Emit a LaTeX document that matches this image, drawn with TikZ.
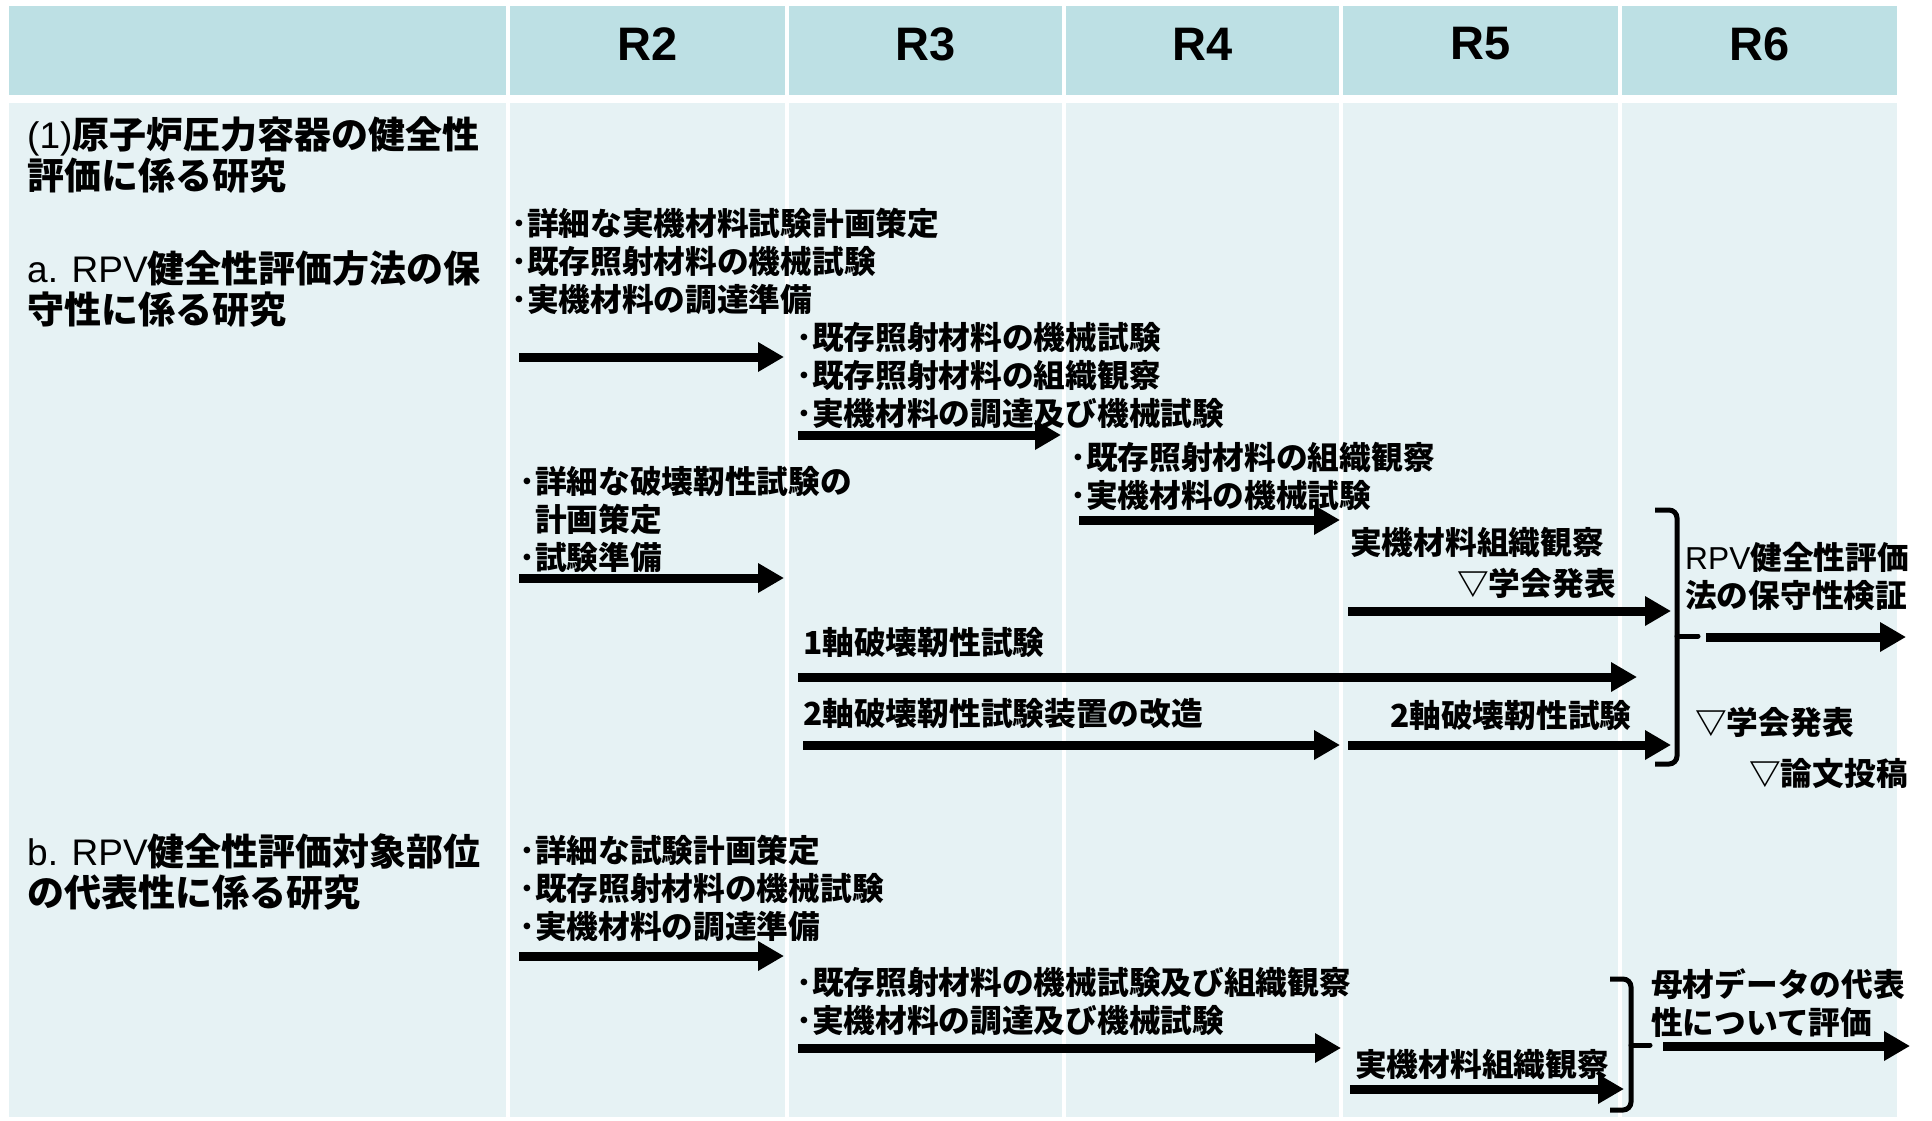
\documentclass[tikz,border=0pt]{standalone}
\usepackage{fontspec}
\setmainfont{Liberation Sans}
\newfontfamily\jp{Noto Sans CJK JP}
\usetikzlibrary{arrows.meta}
\newcommand\lat[1]{{\rmfamily\mdseries #1}}
\definecolor{hdrc}{RGB}{189,224,228}
\definecolor{bodyc}{RGB}{230,242,244}
\tikzset{
  hdrcell/.style={fill=hdrc},
  bodycell/.style={fill=bodyc},
  hdr/.style={font=\fontsize{47}{50}\selectfont\bfseries, inner sep=0},
  big/.style={font=\jp\bfseries\fontsize{37}{41}\selectfont, anchor=west, align=left, inner sep=0},
  txt/.style={font=\jp\bfseries\fontsize{31.7}{38}\selectfont, anchor=west, align=left, inner sep=0},
  arr/.style={line width=9pt, -{Triangle[length=26pt,width=28pt]}},
  brk/.style={line width=5pt, rounded corners=8pt}
}
\begin{document}
\begin{tikzpicture}[x=1pt,y=-1pt]
\useasboundingbox[fill=white] (0,0) rectangle (1932,1120);
% header cells
\fill[hdrcell] (9,6) rectangle (506,95);
\fill[hdrcell] (510,6) rectangle (785,95);
\fill[hdrcell] (789,6) rectangle (1062,95);
\fill[hdrcell] (1066,6) rectangle (1339,95);
\fill[hdrcell] (1343,6) rectangle (1618,95);
\fill[hdrcell] (1622,6) rectangle (1897,95);
% body cells
\fill[bodycell] (9,103) rectangle (506,1117);
\fill[bodycell] (510,103) rectangle (785,1117);
\fill[bodycell] (789,103) rectangle (1062,1117);
\fill[bodycell] (1066,103) rectangle (1339,1117);
\fill[bodycell] (1343,103) rectangle (1618,1117);
\fill[bodycell] (1622,103) rectangle (1897,1117);
% header labels
\node[hdr] (h2) at (647.5,44) {R2};
\node[hdr] (h3) at (925.5,44) {R3};
\node[hdr] (h4) at (1202.5,44) {R4};
\node[hdr] (h5) at (1480.5,44) {R5};
\node[hdr] (h6) at (1759.5,44) {R6};
% left column
\node[big] (t1) at (27,155.5) {\lat{(1)}原子炉圧力容器の健全性\\評価に係る研究};
\node[big] (ta) at (27,288.5) {\lat{a. RPV}健全性評価方法の保\\守性に係る研究};
\node[big] (tb) at (27,872) {\lat{b. RPV}健全性評価対象部位\\の代表性に係る研究};
% section a texts
\node[txt] (p1) at (511,261) {･詳細な実機材料試験計画策定\\･既存照射材料の機械試験\\･実機材料の調達準備};
\node[txt] (p2) at (796,375) {･既存照射材料の機械試験\\･既存照射材料の組織観察\\･実機材料の調達及び機械試験};
\node[txt] (p3) at (1070,476) {･既存照射材料の組織観察\\･実機材料の機械試験};
\node[txt] (p4) at (519,519.5) {･詳細な破壊靭性試験の\\\phantom{･}計画策定\\･試験準備};
\node[txt] (p5) at (1350,542) {実機材料組織観察};
\node[txt] (p6) at (1457,583) {▽学会発表};
\node[txt] (p7) at (1685,576) {\lat{RPV}健全性評価\\法の保守性検証};
\node[txt] (p8) at (803,643) {1軸破壊靭性試験};
\node[txt] (p9) at (803,714) {2軸破壊靭性試験装置の改造};
\node[txt] (p10) at (1390,716) {2軸破壊靭性試験};
\node[txt] (p11) at (1695,722) {▽学会発表};
\node[txt] (p12) at (1749,774) {▽論文投稿};
% section b texts
\node[txt] (q1) at (519,888) {･詳細な試験計画策定\\･既存照射材料の機械試験\\･実機材料の調達準備};
\node[txt] (q2) at (796,1001) {･既存照射材料の機械試験及び組織観察\\･実機材料の調達及び機械試験};
\node[txt] (q3) at (1355,1064) {実機材料組織観察};
\node[txt] (q4) at (1651,1003) {母材データの代表\\性について評価};
% arrow endpoints
\coordinate (a1s) at (519,357);  \coordinate (a1e) at (784,357);
\coordinate (a2s) at (798,435);  \coordinate (a2e) at (1061,435);
\coordinate (a3s) at (1079,520); \coordinate (a3e) at (1340,520);
\coordinate (a4s) at (519,578);  \coordinate (a4e) at (784,578);
\coordinate (a5s) at (1348,611); \coordinate (a5e) at (1671,611);
\coordinate (a6s) at (1706,637); \coordinate (a6e) at (1906,637);
\coordinate (a7s) at (798,677);  \coordinate (a7e) at (1637,677);
\coordinate (a8s) at (803,745);  \coordinate (a8e) at (1340,745);
\coordinate (a9s) at (1348,745); \coordinate (a9e) at (1671,745);
\coordinate (b1s) at (519,956);  \coordinate (b1e) at (784,956);
\coordinate (b2s) at (798,1048); \coordinate (b2e) at (1341,1048);
\coordinate (b3s) at (1350,1089);\coordinate (b3e) at (1624,1089);
\coordinate (b4s) at (1663,1046);\coordinate (b4e) at (1910,1046);
\draw[arr] (a1s) -- (a1e);
\draw[arr] (a2s) -- (a2e);
\draw[arr] (a3s) -- (a3e);
\draw[arr] (a4s) -- (a4e);
\draw[arr] (a5s) -- (a5e);
\draw[arr] (a6s) -- (a6e);
\draw[arr] (a7s) -- (a7e);
\draw[arr] (a8s) -- (a8e);
\draw[arr] (a9s) -- (a9e);
\draw[arr] (b1s) -- (b1e);
\draw[arr] (b2s) -- (b2e);
\draw[arr] (b3s) -- (b3e);
\draw[arr] (b4s) -- (b4e);
% brackets
\draw[brk] (1655,510) -- (1677,510) -- (1677,764) -- (1655,764);
\draw[line width=5pt, line cap=round] (1677,636) -- (1698,636);
\draw[brk] (1610,979) -- (1631,979) -- (1631,1110) -- (1610,1110);
\draw[line width=5pt, line cap=round] (1631,1045) -- (1650,1045);
\end{tikzpicture}
\end{document}
